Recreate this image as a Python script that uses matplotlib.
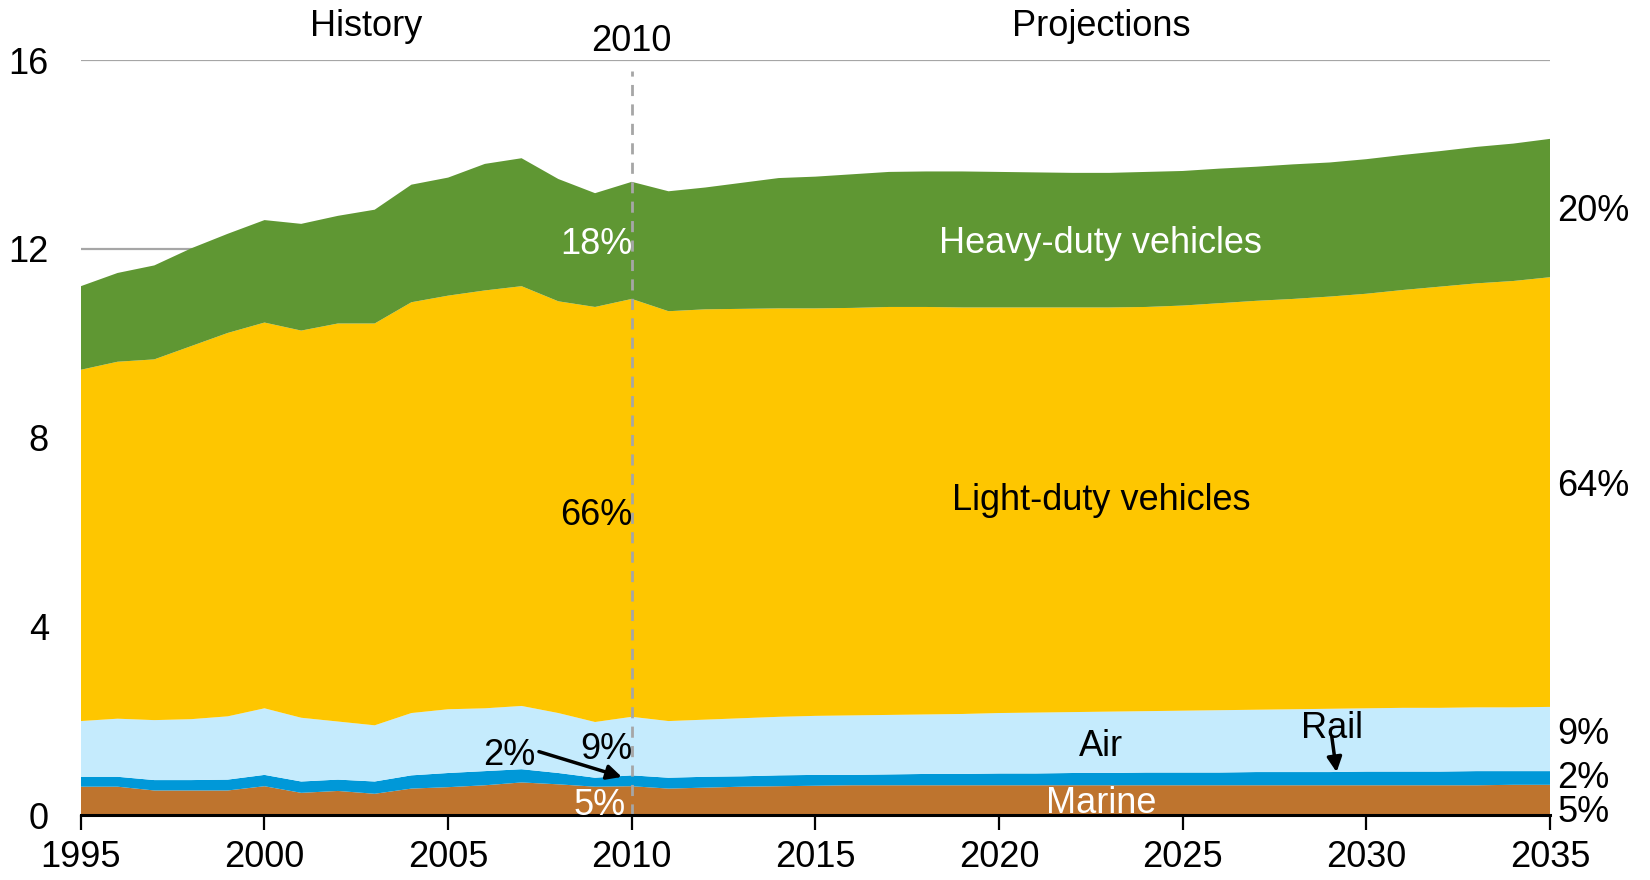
import matplotlib
matplotlib.use("Agg")
import matplotlib.pyplot as plt
import numpy as np

plt.rcParams['font.family'] = ['Liberation Sans', 'DejaVu Sans']

years = list(range(1995, 2036))
marine = [0.61,0.61,0.53,0.53,0.53,0.62,0.48,0.52,0.46,0.57,0.60,0.64,0.70,0.66,0.61,0.62,0.57,0.59,0.61,0.62,
          0.63,0.64,0.64,0.64,0.64,0.64,0.64,0.64,0.64,0.64,0.64,0.64,0.64,0.64,0.64,0.64,0.64,0.64,0.64,0.65,0.65]
rail = [0.21,0.21,0.22,0.22,0.23,0.24,0.24,0.24,0.26,0.28,0.30,0.30,0.28,0.24,0.19,0.23,0.23,0.23,0.22,0.23,
        0.23,0.22,0.23,0.24,0.24,0.25,0.25,0.26,0.26,0.27,0.27,0.27,0.28,0.28,0.28,0.29,0.29,0.29,0.30,0.29,0.29]
air = [1.18,1.23,1.27,1.29,1.34,1.41,1.35,1.23,1.19,1.32,1.35,1.33,1.34,1.27,1.18,1.24,1.20,1.21,1.23,1.24,
       1.25,1.26,1.26,1.26,1.27,1.28,1.29,1.29,1.30,1.30,1.31,1.32,1.32,1.33,1.34,1.34,1.35,1.35,1.35,1.35,1.36]
light_duty = [7.44,7.56,7.64,7.90,8.12,8.17,8.20,8.43,8.51,8.70,8.76,8.85,8.89,8.72,8.79,8.85,8.68,8.69,8.67,8.65,
              8.63,8.63,8.64,8.63,8.61,8.59,8.58,8.57,8.56,8.56,8.58,8.62,8.66,8.69,8.73,8.78,8.85,8.92,8.98,9.03,9.10]
heavy_duty = [1.77,1.88,1.99,2.07,2.10,2.17,2.26,2.28,2.41,2.49,2.50,2.68,2.71,2.59,2.41,2.48,2.54,2.58,2.67,2.76,
              2.79,2.83,2.86,2.87,2.88,2.87,2.86,2.85,2.85,2.86,2.85,2.85,2.84,2.85,2.84,2.85,2.86,2.87,2.89,2.91,2.93]

series_names = ["Marine", "Rail", "Air", "Light-duty vehicles", "Heavy-duty vehicles"]
colors = ["#BE742E", "#0098D8", "#C5EBFD", "#FEC600", "#5F9733"]
yticks = [0, 4, 8, 12, 16]
xticks = [1995, 2000, 2005, 2010, 2015, 2020, 2025, 2030, 2035]
share_2010 = ["5%", "2%", "9%", "66%", "18%"]
share_2035 = ["5%", "2%", "9%", "64%", "20%"]

FS = 26
DY = -0.07
fig = plt.figure(figsize=(16.5, 8.8), dpi=100)
ax = fig.add_axes([0.049, 0.0733, 0.8904, 0.8585])

ax.stackplot(years, marine, rail, air, light_duty, heavy_duty, colors=colors, linewidth=0, zorder=2)

ax.set_xlim(1995, 2035)
ax.set_ylim(0, 16)
ax.set_yticks(yticks)
ax.set_xticks(xticks)
ax.yaxis.grid(True, color="#A6A6A6", linewidth=1.6, zorder=0)
ax.set_axisbelow(True)
for s in ["left", "right", "top"]:
    ax.spines[s].set_visible(False)
ax.spines["bottom"].set_linewidth(2.2)
ax.spines["bottom"].set_zorder(5)
ax.tick_params(axis="y", length=0, labelsize=FS, pad=23)
ax.tick_params(axis="x", direction="out", length=11, width=1.6, labelsize=FS, pad=7)

ax.axvline(2010, ymin=0, ymax=0.985, color="#A6A6A6", linestyle=(0, (4, 3)), linewidth=2, zorder=4)

def t(x, y, s, **kw):
    ax.text(x, y + DY, s, ha=kw.pop("ha", "center"), va="center", fontsize=FS, **kw)

# header texts
t(2002.77, 16.78, "History", clip_on=False)
t(2022.77, 16.78, "Projections", clip_on=False)
t(2010.0, 16.47, "2010", clip_on=False)

# series labels
t(2022.77, 12.19, "Heavy-duty vehicles", color="white", zorder=6)
t(2022.77, 6.75, "Light-duty vehicles", color="black", zorder=6)
t(2022.77, 1.54, "Air", color="black", zorder=6)
t(2022.77, 0.33, "Marine", color="white", zorder=6)
t(2029.07, 1.92, "Rail", color="black", zorder=6)
ax.annotate("", xy=(2029.2, 0.86), xytext=(2029.05, 1.72),
            arrowprops=dict(arrowstyle="-|>", color="black", lw=2.5, mutation_scale=22), zorder=6)

# 2010 shares
t(2009.04, 12.17, share_2010[4], color="white", zorder=6)
t(2009.04, 6.42, share_2010[3], color="black", zorder=6)
t(2009.3, 1.47, share_2010[2], color="black", zorder=6)
t(2006.66, 1.34, share_2010[1], color="black", zorder=6)
t(2009.13, 0.29, share_2010[0], color="white", zorder=6)
ax.annotate("", xy=(2009.8, 0.80), xytext=(2007.4, 1.37),
            arrowprops=dict(arrowstyle="-|>", color="black", lw=2.5, mutation_scale=22), zorder=6)

# 2035 shares
for val, lab in zip([12.86, 7.04, 1.78, 0.85, 0.13], share_2035[::-1]):
    t(2035.2, val, lab, ha="left", color="black", clip_on=False)

fig.savefig("out.png", dpi=100)
